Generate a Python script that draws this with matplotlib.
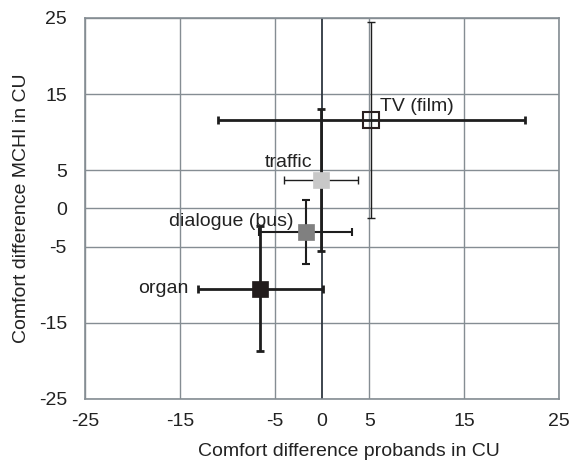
import matplotlib
matplotlib.use("Agg")
import matplotlib.pyplot as plt

plt.rcParams['font.family'] = ['Liberation Sans', 'DejaVu Sans']
plt.rcParams['axes.unicode_minus'] = False

labels = ["TV (film)", "traffic", "dialogue (bus)", "organ"]
x_vals = [5.2, -0.1, -1.7, -6.5]
y_vals = [11.6, 3.7, -3.1, -10.5]
x_err = [16.2, 3.9, 4.9, 6.6]
y_err = [12.9, 9.3, 4.2, 8.2]
face_colors = ["none", "#c8c8c8", "#808080", "#221c1c"]
edge_colors = ["#2a2020", "#c8c8c8", "#808080", "#221c1c"]
xerr_widths = [2.0, 1.0, 1.5, 2.0]
yerr_widths = [1.0, 2.0, 1.5, 2.0]
ticks = [-25, -15, -5, 0, 5, 15, 25]

fig = plt.figure(figsize=(5.71, 4.61), dpi=100)
ax = fig.add_axes([0.1489, 0.1345, 0.8301, 0.8265])

grid_c = "#858d93"
for t in ticks:
    ax.axhline(t, color=grid_c, lw=1.0, zorder=1)
    if t != 0:
        ax.axvline(t, color=grid_c, lw=1.0, zorder=1)
ax.axvline(0, color="#2e3740", lw=1.3, zorder=1.5)

for i in range(len(labels)):
    ax.errorbar(x_vals[i], y_vals[i], xerr=x_err[i], fmt="none",
                ecolor="#1e1e1e", elinewidth=xerr_widths[i], capsize=3,
                capthick=xerr_widths[i], zorder=2)
    ax.errorbar(x_vals[i], y_vals[i], yerr=y_err[i], fmt="none",
                ecolor="#1e1e1e", elinewidth=yerr_widths[i], capsize=3,
                capthick=yerr_widths[i], zorder=2)
    ax.plot(x_vals[i], y_vals[i], marker="s", markersize=12,
            markerfacecolor=face_colors[i], markeredgecolor=edge_colors[i],
            markeredgewidth=1.5 if i == 0 else 0.5, linestyle="none", zorder=3)

fs = 14
tc = "#222222"
ax.text(x_vals[0] + 0.9, y_vals[0] + 1.75, labels[0], fontsize=fs, ha="left", va="center", color=tc, zorder=4)
ax.text(x_vals[1] - 0.95, y_vals[1] + 2.3, labels[1], fontsize=fs, ha="right", va="center", color=tc, zorder=4)
ax.text(x_vals[2] - 1.35, y_vals[2] + 1.4, labels[2], fontsize=fs, ha="right", va="center", color=tc, zorder=4)
ax.text(x_vals[3] - 7.6, y_vals[3], labels[3], fontsize=fs, ha="right", va="center", color=tc, zorder=4)

ax.set_xlim(-25, 25)
ax.set_ylim(-25, 25)
ax.set_xticks(ticks)
ax.set_yticks(ticks)
ax.tick_params(axis="both", length=0, labelsize=fs, colors=tc)
ax.tick_params(axis="x", pad=10)
ax.tick_params(axis="y", pad=13)
for s in ax.spines.values():
    s.set_color(grid_c)
    s.set_linewidth(1.2)
ax.set_xlabel("Comfort difference probands in CU", fontsize=fs, color=tc)
ax.xaxis.set_label_coords((349 - 85) / 474, -(452 - 399) / 381, transform=ax.transAxes)
ax.xaxis.label.set_va("center")
ax.set_ylabel("Comfort difference MCHI in CU", fontsize=fs, color=tc)
ax.yaxis.set_label_coords(-(85 - 21) / 474, 0.5, transform=ax.transAxes)
ax.yaxis.label.set_va("center")

fig.savefig("out.png", dpi=100)
